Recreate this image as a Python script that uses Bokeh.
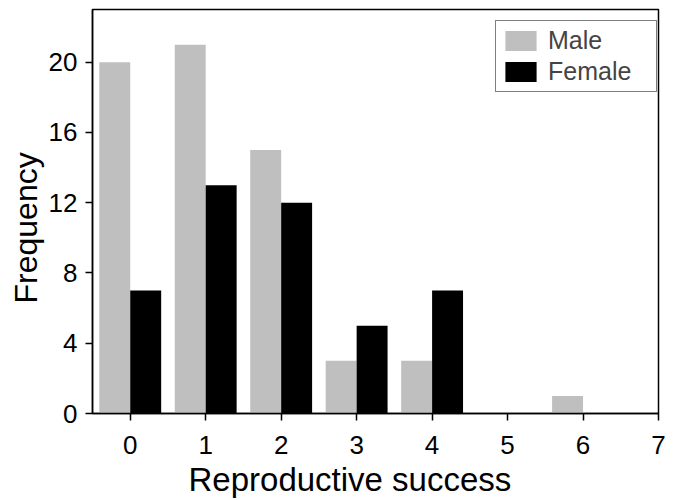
from bokeh.plotting import figure
from bokeh.models import ColumnDataSource, FixedTicker, Legend, LegendItem, Title
from bokeh.transform import dodge
from bokeh.embed import file_html
from bokeh.resources import INLINE

categories = [0, 1, 2, 3, 4, 5, 6]
male = [20, 21, 15, 3, 3, 0, 1]
female = [7, 13, 12, 5, 7, 0, 0]
x_ticks = [0, 1, 2, 3, 4, 5, 6, 7]
y_ticks = [0, 4, 8, 12, 16, 20]

src = ColumnDataSource(dict(cat=categories, male=male, female=female))

FONT = "Liberation Sans"

p = figure(width=673, height=500, x_range=(-0.5, 7), y_range=(0, 23),
           output_backend="svg", toolbar_location=None,
           min_border_left=92, min_border_right=15, min_border_top=9, min_border_bottom=87)
p.xgrid.visible = False
p.ygrid.visible = False
p.outline_line_color = "black"
p.outline_line_width = 1.5
p.background_fill_color = "white"
p.border_fill_color = "white"

r_m = p.vbar(x=dodge("cat", -0.205, range=p.x_range), top="male", width=0.41,
             source=src, fill_color="#bfbfbf", line_color=None)
r_f = p.vbar(x=dodge("cat", 0.205, range=p.x_range), top="female", width=0.41,
             source=src, fill_color="black", line_color=None)

for ax in (p.xaxis[0], p.yaxis[0]):
    ax.axis_line_color = "black"
    ax.axis_line_width = 1.5
    ax.major_tick_line_color = "black"
    ax.major_tick_line_width = 1.5
    ax.major_tick_out = 7
    ax.major_tick_in = 0
    ax.minor_tick_line_color = None
    ax.major_label_text_font = FONT
    ax.major_label_text_font_size = "26px"
    ax.major_label_text_color = "black"

p.xaxis[0].ticker = FixedTicker(ticks=x_ticks)
p.yaxis[0].ticker = FixedTicker(ticks=y_ticks)
p.xaxis[0].major_label_standoff = 15
p.yaxis[0].major_label_standoff = 8

xt = Title(text="Reproductive success", align="left", offset=96,
           text_font=FONT, text_font_size="33px", text_font_style="normal",
           text_color="black", standoff=5)
p.add_layout(xt, "below")

yt = Title(text="Frequency", align="left", offset=110,
           text_font=FONT, text_font_size="32px", text_font_style="normal",
           text_color="black", standoff=4)
p.add_layout(yt, "left")

legend = Legend(items=[LegendItem(label="Male", renderers=[r_m]),
                       LegendItem(label="Female", renderers=[r_f])],
                location=(403, 321))
legend.border_line_color = "black"
legend.border_line_width = 1
legend.background_fill_alpha = 1
legend.padding = 5
legend.spacing = 2
legend.margin = 0
legend.glyph_width = 39
legend.glyph_height = 25
legend.label_standoff = 8
legend.label_width = 103
legend.label_text_font = FONT
legend.label_text_font_size = "25px"
legend.label_height = 25
p.add_layout(legend)

open("out.html", "w").write(file_html(p, INLINE))
